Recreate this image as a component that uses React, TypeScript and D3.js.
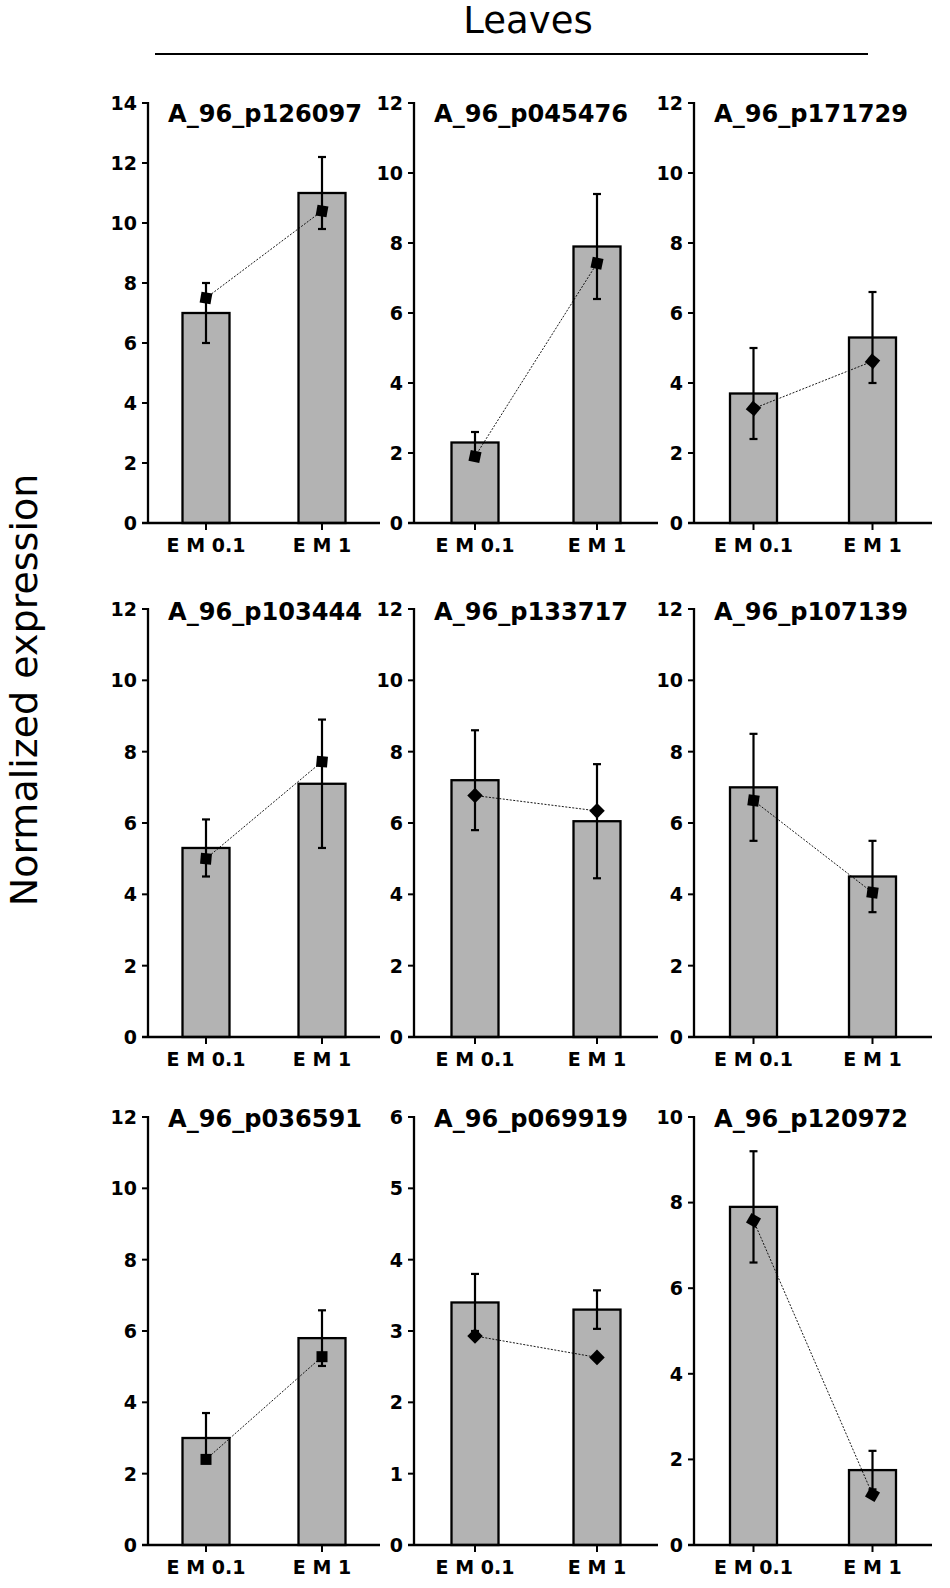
import React from "react";
import * as d3 from "d3";

// gene panels, read row by row
const genes = [
  "A_96_p126097", "A_96_p045476", "A_96_p171729",
  "A_96_p103444", "A_96_p133717", "A_96_p107139",
  "A_96_p036591", "A_96_p069919", "A_96_p120972",
];
const categories = ["E M 0.1", "E M 1"];
const yMaxes = [14, 12, 12, 12, 12, 12, 12, 6, 10];
const ySteps = [2, 2, 2, 2, 2, 2, 2, 1, 2];

// bar means (microarray) and their error
const barValues = [
  [7.0, 11.0], [2.3, 7.9], [3.7, 5.3],
  [5.3, 7.1], [7.2, 6.05], [7.0, 4.5],
  [3.0, 5.8], [3.4, 3.3], [7.9, 1.75],
];
const barErrors = [
  [1.0, 1.2], [0.3, 1.5], [1.3, 1.3],
  [0.8, 1.8], [1.4, 1.6], [1.5, 1.0],
  [0.7, 0.78], [0.4, 0.27], [1.3, 0.45],
];
// qPCR points joined by the dotted line
const pointValues = [
  [7.5, 10.4], [1.9, 7.42], [3.27, 4.62],
  [5.0, 7.72], [6.77, 6.34], [6.63, 4.05],
  [2.4, 5.28], [2.93, 2.63], [7.58, 1.18],
];

// layout
const W = 950;
const H = 1588;
const colX = [148, 414, 694];
const colW = [232, 244, 238];
const rowTop = [103, 609, 1117];
const rowBottom = [523, 1037, 1545];
const titleY = [122, 620, 1127];
const markerAngles = [10, 12, 40, 5, 45, 8, 0, 45, 30];
const BAR_W = 47;
const FONT = "'DejaVu Sans', sans-serif";

function Panel({ i }: { i: number }) {
  const col = i % 3;
  const row = Math.floor(i / 3);
  const x0 = colX[col];
  const top = rowTop[row];
  const bottom = rowBottom[row];

  const x = d3.scalePoint<string>().domain(categories).range([x0, x0 + colW[col]]).padding(0.5);
  const y = d3.scaleLinear().domain([0, yMaxes[i]]).range([bottom, top]);
  const ticks = d3.range(0, yMaxes[i] + ySteps[i] / 2, ySteps[i]);

  const pts = categories.map((c, j) => [x(c)!, y(pointValues[i][j])] as [number, number]);
  const line = d3.line()(pts) || "";

  return (
    <g>
      {/* bars */}
      {categories.map((c, j) => (
        <rect
          key={"b" + j}
          x={x(c)! - BAR_W / 2}
          y={y(barValues[i][j])}
          width={BAR_W}
          height={bottom - y(barValues[i][j])}
          fill="#b3b3b3"
          stroke="#000"
          strokeWidth={2.3}
        />
      ))}
      {/* error bars */}
      {categories.map((c, j) => {
        const cx = x(c)!;
        const hi = y(barValues[i][j] + barErrors[i][j]);
        const lo = y(barValues[i][j] - barErrors[i][j]);
        return (
          <g key={"e" + j} stroke="#000" strokeWidth={2.2}>
            <line x1={cx} x2={cx} y1={hi} y2={lo} />
            <line x1={cx - 4} x2={cx + 4} y1={hi} y2={hi} />
            <line x1={cx - 4} x2={cx + 4} y1={lo} y2={lo} />
          </g>
        );
      })}
      {/* axes */}
      <line x1={x0} x2={x0} y1={top - 1} y2={bottom} stroke="#000" strokeWidth={2.3} />
      <line x1={x0 - 6} x2={x0 + colW[col]} y1={bottom} y2={bottom} stroke="#000" strokeWidth={2.3} />
      {ticks.map((t) => (
        <g key={"t" + t}>
          <line x1={x0 - 6} x2={x0} y1={y(t)} y2={y(t)} stroke="#000" strokeWidth={2} />
          <text
            x={x0 - 11}
            y={y(t)}
            dy="0.36em"
            textAnchor="end"
            fontFamily={FONT}
            fontWeight="bold"
            fontSize={19}
          >
            {t}
          </text>
        </g>
      ))}
      {categories.map((c) => (
        <g key={"x" + c}>
          <line x1={x(c)} x2={x(c)} y1={bottom} y2={bottom + 7} stroke="#000" strokeWidth={2} />
          <text
            x={x(c)}
            y={bottom + 29}
            textAnchor="middle"
            fontFamily={FONT}
            fontWeight="bold"
            fontSize={19}
          >
            {c}
          </text>
        </g>
      ))}
      {/* trend line + markers */}
      <path d={line} fill="none" stroke="#000" strokeWidth={0.9} strokeDasharray="2,1.5" />
      {pts.map(([px, py], j) => (
        <rect
          key={"m" + j}
          x={-5.5}
          y={-5.5}
          width={11}
          height={11}
          fill="#000"
          transform={`translate(${px},${py}) rotate(${markerAngles[i]})`}
        />
      ))}
      <text
        x={x0 + 20}
        y={titleY[row]}
        fontFamily={FONT}
        fontWeight="bold"
        fontSize={24}
        textLength={194}
        lengthAdjust="spacingAndGlyphs"
      >
        {genes[i]}
      </text>
    </g>
  );
}

export default function App() {
  return (
    <svg
      width={W}
      height={H}
      viewBox={`0 0 ${W} ${H}`}
      style={{ position: "absolute", left: 0, top: 0, background: "#fff" }}
    >
      <rect width={W} height={H} fill="#fff" />
      <text x={528} y={33} textAnchor="middle" fontFamily={FONT} fontSize={37}>
        Leaves
      </text>
      <line x1={155} x2={868} y1={54} y2={54} stroke="#000" strokeWidth={2} />
      <text
        transform="translate(37,690) rotate(-90)"
        textAnchor="middle"
        fontFamily={FONT}
        fontSize={38}
      >
        Normalized expression
      </text>
      {genes.map((g, i) => (
        <Panel key={g} i={i} />
      ))}
    </svg>
  );
}
